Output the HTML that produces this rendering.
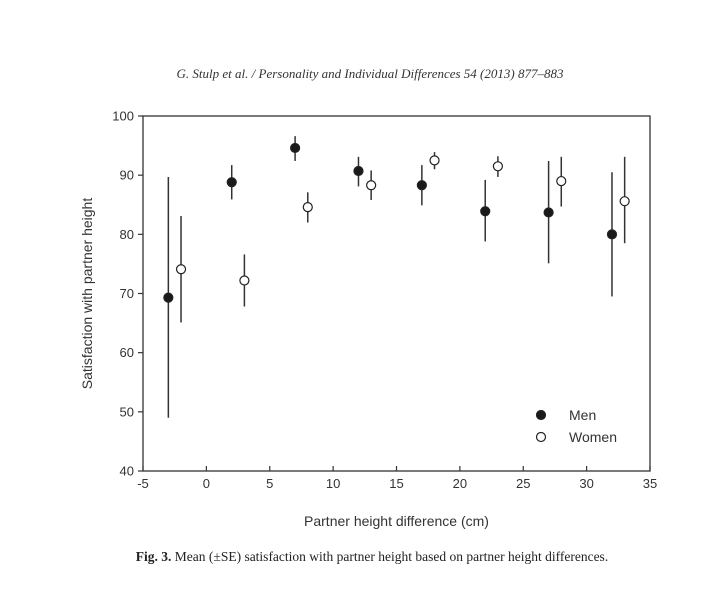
<!DOCTYPE html>
<html><head><meta charset="utf-8"><style>
body{margin:0;background:#fff;width:720px;height:602px;overflow:hidden}
svg{display:block}
</style></head><body>
<svg width="720" height="602" xmlns="http://www.w3.org/2000/svg">
<text x="370" y="78" text-anchor="middle" font-family="Liberation Serif, serif" font-style="italic" font-size="13" fill="#333">G. Stulp et al. / Personality and Individual Differences 54 (2013) 877–883</text>
<g id="chart"></g>
<text x="372" y="561" text-anchor="middle" font-family="Liberation Serif, serif" font-size="13.5" fill="#222"><tspan font-weight="bold">Fig. 3.</tspan> Mean (±SE) satisfaction with partner height based on partner height differences.</text>
</svg>
<script>
const xTicks=[-5,0,5,10,15,20,25,30,35];
const yTicks=[40,50,60,70,80,90,100];
const menX=[-3,2,7,12,17,22,27,32];
const menMean=[69.3,88.8,94.6,90.7,88.3,83.9,83.7,80.0];
const menHi=[89.7,91.7,96.6,93.1,91.7,89.2,92.4,90.5];
const menLo=[49.0,85.9,92.4,88.1,84.9,78.8,75.1,69.5];
const womenX=[-2,3,8,13,18,23,28,33];
const womenMean=[74.1,72.2,84.6,88.3,92.5,91.5,89.0,85.6];
const womenHi=[83.1,76.6,87.1,90.8,93.9,93.2,93.1,93.1];
const womenLo=[65.1,67.8,82.0,85.8,91.0,89.7,84.7,78.5];

const L=143,R=650,T=116,B=471;
const sx=v=>L+(v+5)/40*(R-L);
const sy=v=>B-(v-40)/60*(B-T);
const NS="http://www.w3.org/2000/svg";
const g=document.getElementById('chart');
function mk(tag,attrs,parent){const e=document.createElementNS(NS,tag);for(const k in attrs)e.setAttribute(k,attrs[k]);(parent||g).appendChild(e);return e;}
const F="Liberation Sans, sans-serif";
let e=mk('rect',{x:L,y:T,width:R-L,height:B-T,fill:'none',stroke:'#333','stroke-width':1.3});


xTicks.forEach(t=>{
  let l=mk('line',{x1:sx(t),x2:sx(t),y1:B,y2:B-5,stroke:'#333','stroke-width':1.2});
  
  
  let tx=mk('text',{x:sx(t),y:B+17,'text-anchor':'middle','font-family':F,'font-size':13,fill:'#333'});
  tx.textContent=t;
  
  
});
yTicks.forEach(t=>{
  let l=mk('line',{x1:L,x2:L-5,y1:sy(t),y2:sy(t),stroke:'#333','stroke-width':1.2});
  
  
  let tx=mk('text',{x:L-9,y:sy(t)+4.5,'text-anchor':'end','font-family':F,'font-size':13,fill:'#333'});
  tx.textContent=t;
  
  
});
let xt=mk('text',{x:(L+R)/2,y:526,'text-anchor':'middle','font-family':F,'font-size':14,fill:'#333'});
xt.textContent='Partner height difference (cm)';


let yt=mk('text',{x:0,y:0,transform:`translate(92,${(T+B)/2}) rotate(-90)`,'text-anchor':'middle','font-family':F,'font-size':14,fill:'#333'});
yt.textContent='Satisfaction with partner height';


function series(xs,m,hi,lo,fill,name){
  xs.forEach((x,i)=>{
    let l=mk('line',{x1:sx(x),x2:sx(x),y1:sy(hi[i]),y2:sy(lo[i]),stroke:'#333','stroke-width':1.5});
    
    
    let c=mk('circle',{cx:sx(x),cy:sy(m[i]),r:4.5,fill:fill,stroke:'#222','stroke-width':1.2});
    
    
  });
}
series(menX,menMean,menHi,menLo,'#1a1a1a','men');
series(womenX,womenMean,womenHi,womenLo,'#fff','women');
let c1=mk('circle',{cx:541,cy:415,r:4.5,fill:'#1a1a1a',stroke:'#222','stroke-width':1.2});


let t1=mk('text',{x:569,y:420,'font-family':F,'font-size':14,fill:'#333'});t1.textContent='Men';


let c2=mk('circle',{cx:541,cy:437,r:4.5,fill:'#fff',stroke:'#222','stroke-width':1.2});


let t2=mk('text',{x:569,y:442,'font-family':F,'font-size':14,fill:'#333'});t2.textContent='Women';


</script>
</body></html>
